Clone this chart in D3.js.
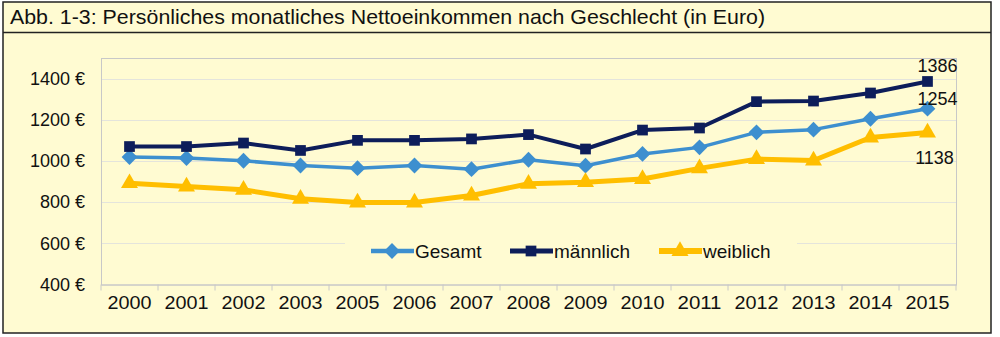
<!DOCTYPE html>
<html><head><meta charset="utf-8">
<script src="https://cdn.jsdelivr.net/npm/d3@7"></script>
<style>body{margin:0;background:#fff;}svg{display:block;font-family:"Liberation Sans",Arial,sans-serif;}</style>
</head><body><svg id="c" width="1000" height="337"></svg>
<script>
const years = ["2000","2001","2002","2003","2005","2006","2007","2008","2009","2010","2011","2012","2013","2014","2015"];
const gesamt = [1019,1014,1001,978,965,978,960,1006,977,1034,1066,1139,1152,1205,1254];
const maennlich = [1070,1070,1087,1051,1100,1100,1107,1128,1058,1150,1160,1288,1291,1330,1386];
const weiblich = [892,876,860,816,798,798,832,889,897,912,964,1009,1002,1114,1138];
const yTicks = [400,600,800,1000,1200,1400];
const seriesNames = ["Gesamt","männlich","weiblich"];

const svg = d3.select("#c");
const bg = "#fffbd2";
svg.append("rect").attr("x",3).attr("y",2).attr("width",988).attr("height",331).attr("fill",bg).attr("stroke","#222").attr("stroke-width",1.5);
svg.append("line").attr("x1",3).attr("x2",991).attr("y1",32.5).attr("y2",32.5).attr("stroke","#222").attr("stroke-width",1.5);
svg.append("text").attr("x",10).attr("y",24).attr("font-size",21).attr("fill","#111")
  .attr("textLength",755).attr("lengthAdjust","spacingAndGlyphs")
  .text("Abb. 1-3: Persönliches monatliches Nettoeinkommen nach Geschlecht (in Euro)");

const L=101, R=956, T=58, B=284.5;
const x = d3.scaleBand().domain(years).range([L,R]);
const y = d3.scaleLinear().domain([400,1500]).range([B,T]);

const g = svg.append("g");
g.selectAll(".grid").data(yTicks.slice(1)).enter().append("line")
  .attr("x1",L).attr("x2",R).attr("y1",d=>Math.round(y(d))+0.5).attr("y2",d=>Math.round(y(d))+0.5)
  .attr("stroke","#e4e4dc").attr("stroke-width",1.2);
g.append("rect").attr("x",L+0.5).attr("y",T+0.5).attr("width",R-L).attr("height",B-T).attr("fill","none").attr("stroke","#c8c8c8");

const ya = g.append("g").attr("transform",`translate(${L},0)`)
  .call(d3.axisLeft(y).tickValues(yTicks).tickSize(0).tickPadding(16).tickFormat(d=>d+" €"));
ya.select(".domain").remove();
ya.selectAll("text").attr("font-size",18).attr("fill","#111").attr("font-family","Liberation Sans, Arial");

const xa = g.append("g").attr("transform",`translate(0,${B})`)
  .call(d3.axisBottom(x).tickSize(0).tickPadding(12));
xa.select(".domain").attr("stroke","#c8c8c8");
xa.selectAll("text").attr("font-size",18).attr("fill","#111").attr("font-family","Liberation Sans, Arial")
  .attr("textLength",44).attr("lengthAdjust","spacingAndGlyphs");
g.selectAll(".xt").data(years.concat(["end"])).enter().append("line")
  .attr("x1",(d,i)=>L+i*x.step()).attr("x2",(d,i)=>L+i*x.step())
  .attr("y1",B).attr("y2",B+6).attr("stroke","#c8c8c8");

g.append("rect").attr("x",345).attr("y",236).attr("width",452).attr("height",30).attr("fill",bg);

const cx = d => x(d)+x.bandwidth()/2;
const diamond = {draw(ctx,size){const r=Math.sqrt(size/2);ctx.moveTo(0,-r);ctx.lineTo(r,0);ctx.lineTo(0,r);ctx.lineTo(-r,0);ctx.closePath();}};
const series = [
  {name:seriesNames[0], vals:gesamt, color:"#3d8fcf", w:3.5, sym:diamond, size:125},
  {name:seriesNames[1], vals:maennlich, color:"#0d1d5a", w:4, sym:d3.symbolSquare, size:115},
  {name:seriesNames[2], vals:weiblich, color:"#ffbe00", w:5, sym:d3.symbolTriangle, size:125},
];
const line = d3.line().x(d=>cx(d.year)).y(d=>y(d.v));
series.forEach(s=>{
  const pts = years.map((yr,i)=>({year:yr,v:s.vals[i]}));
  g.append("path").datum(pts).attr("d",line).attr("fill","none").attr("stroke",s.color).attr("stroke-width",s.w).attr("stroke-linejoin","round");
  g.selectAll(null).data(pts).enter().append("path")
    .attr("d",d3.symbol().type(s.sym).size(s.size))
    .attr("transform",d=>`translate(${cx(d.year)},${y(d.v)})`)
    .attr("fill",s.color);
});

const last = years[years.length-1];
g.append("text").attr("x",cx(last)+10).attr("y",y(maennlich[14])-9.5).attr("text-anchor","middle").attr("font-size",18).attr("fill","#111").text(maennlich[14]);
g.append("text").attr("x",cx(last)+10).attr("y",y(gesamt[14])-4).attr("text-anchor","middle").attr("font-size",18).attr("fill","#111").text(gesamt[14]);
g.append("text").attr("x",cx(last)+7).attr("y",y(weiblich[14])+31.5).attr("text-anchor","middle").attr("font-size",18).attr("fill","#111").text(weiblich[14]);

const lx = [371,510,659];
series.forEach((s,i)=>{
  const lg = g.append("g").attr("transform",`translate(${lx[i]},251)`);
  lg.append("line").attr("x1",0).attr("x2",43).attr("stroke",s.color).attr("stroke-width",s.w+1);
  lg.append("path").attr("d",d3.symbol().type(s.sym).size(s.size)).attr("transform","translate(21,0)").attr("fill",s.color);
  lg.append("text").attr("x",44).attr("y",7).attr("font-size",19).attr("fill","#111").text(s.name);
});
</script></body></html>
